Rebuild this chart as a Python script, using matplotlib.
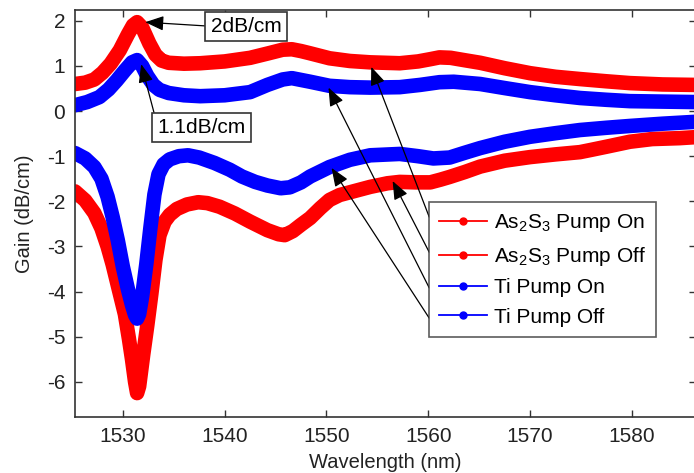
import matplotlib
matplotlib.use("Agg")
import matplotlib.pyplot as plt
from matplotlib.lines import Line2D

plt.rcParams['font.family'] = ['Liberation Sans', 'DejaVu Sans']
plt.rcParams['mathtext.fontset'] = 'custom'
plt.rcParams['mathtext.rm'] = 'Liberation Sans'
plt.rcParams['mathtext.it'] = 'Liberation Sans:italic'
plt.rcParams['axes.unicode_minus'] = False

# ---- data ----
wl_as_on = [1525.3, 1526.3, 1527.2, 1528.0, 1528.8, 1529.7, 1530.5, 1531.0, 1531.4, 1531.9,
            1532.6, 1533.2, 1533.8, 1534.5, 1536.0, 1537.6, 1540.0, 1542.5, 1544.3, 1545.7,
            1546.6, 1547.5, 1548.4, 1550.3, 1552.3, 1554.3, 1557.2, 1559.0, 1560.2, 1561.1,
            1562.2, 1563.5, 1565.1, 1567.5, 1570.0, 1572.5, 1574.9, 1577.5, 1579.8, 1583.0,
            1586.1]
as_on = [0.60, 0.63, 0.70, 0.85, 1.05, 1.35, 1.70, 1.90, 1.97, 1.85,
         1.50, 1.25, 1.12, 1.07, 1.05, 1.06, 1.10, 1.18, 1.28, 1.36,
         1.37, 1.33, 1.28, 1.17, 1.11, 1.08, 1.06, 1.10, 1.15, 1.19,
         1.18, 1.13, 1.07, 0.95, 0.84, 0.76, 0.71, 0.66, 0.62, 0.59,
         0.58]

wl_ti_on = [1525.3, 1526.5, 1527.7, 1528.6, 1529.4, 1530.2, 1530.9, 1531.4, 1531.9, 1532.4,
            1533.0, 1533.6, 1534.5, 1536.0, 1537.6, 1540.0, 1542.5, 1544.2, 1545.7, 1546.6,
            1548.4, 1550.3, 1552.3, 1554.3, 1557.2, 1559.2, 1561.1, 1562.5, 1565.1, 1567.5,
            1570.0, 1572.5, 1574.9, 1577.5, 1579.8, 1583.0, 1586.1]
ti_on = [0.13, 0.20, 0.31, 0.48, 0.68, 0.90, 1.08, 1.13, 1.00, 0.78,
         0.58, 0.47, 0.40, 0.35, 0.33, 0.35, 0.42, 0.58, 0.70, 0.73,
         0.65, 0.56, 0.53, 0.52, 0.53, 0.58, 0.64, 0.65, 0.60, 0.51,
         0.42, 0.35, 0.29, 0.25, 0.22, 0.21, 0.20]

wl_ti_off = [1525.3, 1526.3, 1527.2, 1527.9, 1528.5, 1529.0, 1529.5, 1530.0, 1530.5, 1530.9,
             1531.2, 1531.4, 1531.6, 1531.9, 1532.3, 1532.7, 1533.1, 1533.5, 1534.0, 1534.6,
             1535.5, 1536.4, 1537.5, 1539.0, 1540.5, 1541.7, 1543.0, 1544.2, 1545.5, 1546.4,
             1547.5, 1548.4, 1550.3, 1552.3, 1554.3, 1557.2, 1559.0, 1560.5, 1562.1, 1563.5,
             1565.1, 1567.5, 1570.0, 1572.5, 1574.9, 1577.5, 1579.8, 1583.0, 1586.1]
ti_off = [-0.93, -1.05, -1.24, -1.50, -1.90, -2.35, -2.86, -3.45, -3.95, -4.30,
          -4.52, -4.60, -4.50, -4.10, -3.40, -2.60, -1.85, -1.40, -1.18, -1.07,
          -1.00, -0.98, -1.03, -1.15, -1.30, -1.45, -1.57, -1.65, -1.71, -1.69,
          -1.58, -1.45, -1.24, -1.08, -0.98, -0.95, -1.00, -1.05, -1.03, -0.93,
          -0.82, -0.68, -0.57, -0.49, -0.42, -0.37, -0.33, -0.28, -0.24]

wl_as_off = [1525.3, 1526.3, 1527.2, 1527.9, 1528.5, 1529.0, 1529.6, 1530.2, 1530.6, 1530.9,
             1531.2, 1531.4, 1531.6, 1532.0, 1532.4, 1532.8, 1533.2, 1533.6, 1534.1, 1534.6,
             1535.3, 1536.3, 1537.4, 1538.3, 1539.5, 1541.0, 1542.5, 1544.2, 1545.3, 1545.9,
             1546.7, 1547.5, 1548.4, 1549.4, 1550.3, 1551.3, 1552.3, 1554.3, 1556.0, 1557.2,
             1558.8, 1560.2, 1561.2, 1562.1, 1563.6, 1565.1, 1567.5, 1570.0, 1572.5, 1574.9,
             1576.0, 1577.5, 1579.8, 1582.0, 1584.7, 1586.1]
as_off = [-1.78, -1.98, -2.26, -2.60, -3.00, -3.40, -3.95, -4.50, -5.05, -5.50,
          -6.00, -6.25, -6.10, -5.40, -4.75, -4.05, -3.30, -2.75, -2.45, -2.30,
          -2.17, -2.07, -2.02, -2.04, -2.12, -2.27, -2.45, -2.64, -2.73, -2.75,
          -2.66, -2.52, -2.37, -2.15, -1.97, -1.86, -1.80, -1.68, -1.60, -1.57,
          -1.58, -1.58, -1.52, -1.46, -1.35, -1.23, -1.10, -1.02, -0.96, -0.91,
          -0.86, -0.79, -0.68, -0.62, -0.60, -0.58]

labels = [r'As$_2$S$_3$ Pump On', r'As$_2$S$_3$ Pump Off', 'Ti Pump On', 'Ti Pump Off']
colors = ['#ff0000', '#ff0000', '#0000ff', '#0000ff']
series = [(wl_as_on, as_on), (wl_as_off, as_off), (wl_ti_on, ti_on), (wl_ti_off, ti_off)]

# arrow tips (on curves) and tails (at legend edge)
arrow_tips = [(1554.4, 0.98), (1556.5, -1.55), (1550.2, 0.52), (1550.5, -1.26)]
arrow_tails = [(1560.1, -2.35), (1560.1, -3.13), (1560.1, -3.92), (1560.1, -4.59)]

xticks = [1530, 1540, 1550, 1560, 1570, 1580]
yticks = [-6, -5, -4, -3, -2, -1, 0, 1, 2]

# ---- figure ----
fig = plt.figure(figsize=(6.94, 4.73), dpi=100)
ax = fig.add_axes([75/694, 56/473, 621/694, 407/473])
ax.set_xlim(1525.3, 1586.3)
ax.set_ylim(-6.78, 2.24)

lw = 10.5
for (x, y), c in zip(series, colors):
    ax.plot(x, y, color=c, lw=lw, solid_joinstyle='round', solid_capstyle='round')

edge = '#333333'
for s in ax.spines.values():
    s.set_color(edge)
    s.set_linewidth(1.2)
ax.set_xticks(xticks)
ax.set_yticks(yticks)
ax.tick_params(direction='in', length=5, width=1, colors=edge, labelcolor='#222222',
               labelsize=15, top=True, right=True, pad=7)
ax.set_xlabel('Wavelength (nm)', fontsize=14.5, color='#222222', labelpad=5)
ax.set_ylabel('Gain (dB/cm)', fontsize=14.5, color='#222222', labelpad=9)

# legend
handles = [Line2D([], [], color=c, lw=1.3, marker='o', markersize=5) for c in colors]
leg = fig.legend(handles, labels, loc='upper left', bbox_to_anchor=(429/694, 1 - 202/473),
                 borderaxespad=0, fontsize=15, frameon=True, fancybox=False,
                 handlelength=2.3, handletextpad=0.3, labelspacing=0.5, borderpad=0.5)
leg.get_frame().set_edgecolor(edge)
leg.get_frame().set_linewidth(1.2)

astyle = '-|>,head_length=0.75,head_width=0.3'
for tip, tail in zip(arrow_tips, arrow_tails):
    ax.annotate('', xy=tip, xytext=tail,
                arrowprops=dict(arrowstyle=astyle, mutation_scale=15,
                                color='black', lw=0.9, shrinkA=0, shrinkB=0))

bbox = dict(boxstyle='square,pad=0.25', fc='white', ec=edge, lw=1.2)
ax.annotate('2dB/cm', xy=(1532.2, 1.97), xytext=(1542.1, 1.88), fontsize=15,
            ha='center', va='center', bbox=bbox,
            arrowprops=dict(arrowstyle=astyle, mutation_scale=15, color='black',
                            lw=0.9, shrinkA=0, shrinkB=0, relpos=(0, 0.5)))
ax.annotate('1.1dB/cm', xy=(1531.8, 1.04), xytext=(1537.7, -0.37), fontsize=15,
            ha='center', va='center', bbox=bbox,
            arrowprops=dict(arrowstyle=astyle, mutation_scale=15, color='black',
                            lw=0.9, shrinkA=0, shrinkB=0, relpos=(0, 0.68)))

fig.savefig('out.png', dpi=100)
